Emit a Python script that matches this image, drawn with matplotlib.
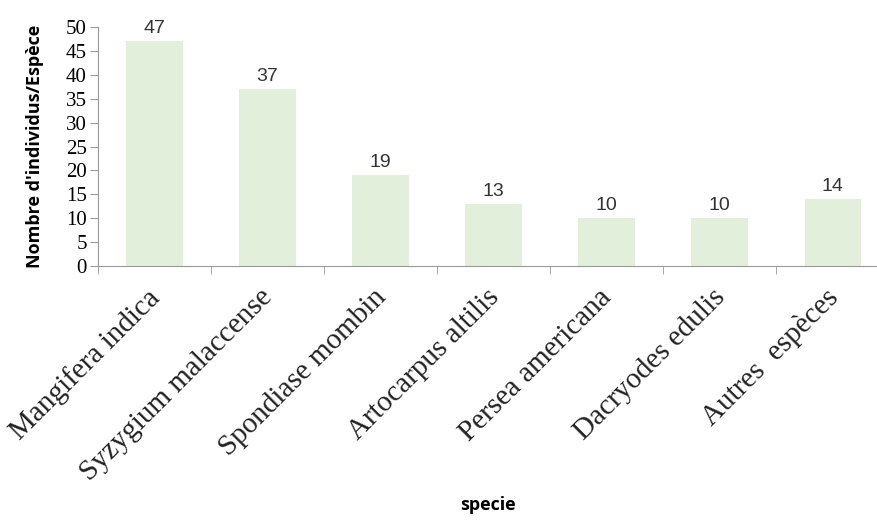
import matplotlib.pyplot as plt
import matplotlib.transforms as mtrans
import numpy as np

# données
especes = ["Mangifera indica", "Syzygium malaccense", "Spondiase mombin",
           "Artocarpus altilis", "Persea americana", "Dacryodes edulis",
           "Autres  espèces"]
individus = [47, 37, 19, 13, 10, 10, 14]

fig = plt.figure(figsize=(8.78, 5.20), dpi=100)
ax = fig.add_axes([98 / 878, 254 / 520, 1 - 98 / 878, (493 - 254) / 520])

x = np.arange(len(especes))
bars = ax.bar(x, individus, width=0.5, color='#e2efda')

# étiquettes de valeurs
for b, v in zip(bars, individus):
    ax.annotate(str(v), (b.get_x() + b.get_width() / 2, v), xytext=(0, 3),
                textcoords='offset points', ha='center', va='bottom',
                fontsize=14, family='Liberation Sans', color='#333333')

ax.set_xlim(-0.5, 6.40)
ax.set_ylim(0, 50)
ax.set_yticks(range(0, 51, 5))
ax.set_yticklabels([str(t) for t in range(0, 51, 5)], family='Liberation Serif', fontsize=15)

# ticks x aux limites des catégories
ax.set_xticks(x)
ax.set_xticks(np.arange(-0.5, 6.5, 1), minor=True)
ax.tick_params(axis='x', which='major', length=0, pad=13)
ax.tick_params(axis='x', which='minor', length=6, color='#999999')
ax.tick_params(axis='y', length=6, color='#999999', pad=2)
ax.set_xticklabels(especes, rotation=45, ha='right', rotation_mode='anchor',
                   family='Liberation Serif', fontsize=21, color='#222222')
for lab in ax.get_xticklabels():
    lab.set_transform(lab.get_transform() + mtrans.ScaledTranslation(-0.08, 0, fig.dpi_scale_trans))

for s in ['top', 'right']:
    ax.spines[s].set_visible(False)
ax.spines['left'].set_color('#999999')
ax.spines['bottom'].set_color('#999999')

ax.set_ylabel("Nombre d'individus/Espèce", family='Open Sans', fontweight='bold',
              fontsize=13)
ax.yaxis.set_label_coords(-54 / 780, 0.5)
fig.text((98 + 878) / 2 / 878, 15 / 520, "specie", ha='center', va='center',
         family='Open Sans', fontweight='bold', fontsize=13)

fig.savefig('out.png', dpi=100)
